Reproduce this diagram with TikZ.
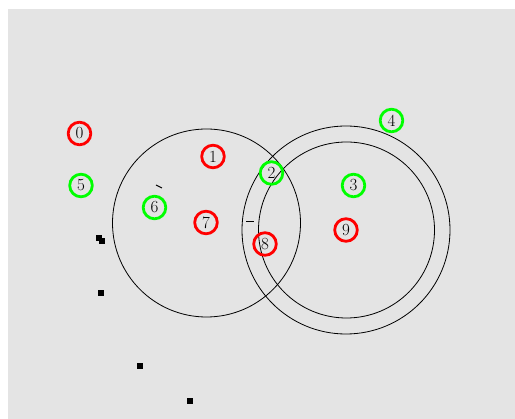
\documentclass[tikz,border=0pt]{standalone}
\usepackage{fontspec}
\definecolor{bggray}{RGB}{228,228,228}
\definecolor{nodered}{RGB}{255,0,0}
\definecolor{nodegreen}{RGB}{0,255,0}
\begin{document}
\begin{tikzpicture}[x=1pt,y=-1pt,
  bigring/.style={draw=black,line width=0.8pt,circle,inner sep=0pt},
  numnode/.style={line width=2.8pt,circle,inner sep=0pt,minimum size=22.6pt,font=\fontsize{17}{19}\selectfont},
  rednode/.style={numnode,draw=nodered},
  greennode/.style={numnode,draw=nodegreen},
  sq/.style={fill=black,inner sep=0pt,minimum size=6pt},
  tick/.style={draw=black,line width=1pt}]
\useasboundingbox (0,0) rectangle (515,419);
\fill[white] (0,0) rectangle (515,419);
\fill[bggray] (8,9) rectangle (515,419);
% big circles
\node[bigring,minimum size=188pt] (L) at (206.5,223) {};
\node[bigring,minimum size=208pt] (RO) at (346,230) {};
\node[bigring,minimum size=176pt] (RI) at (346.5,230) {};
% small marks
\coordinate (ta) at (156,185);
\coordinate (tb) at (162,188);
\draw[tick] (ta) -- (tb);
\coordinate (tc) at (246,222);
\coordinate (td) at (254,222);
\draw[tick] (tc) -- (td);
% squares
\node[sq] (s1) at (98.5,238.5) {};
\node[sq] (s2) at (102,241.5) {};
\node[sq] (s3) at (101,293.5) {};
\node[sq] (s4) at (140,366.5) {};
\node[sq] (s5) at (190,401.5) {};
% numbered nodes
\node[rednode] (n0) at (79.5,133.5) {0};
\node[rednode] (n1) at (213,156.5) {1};
\node[greennode] (n2) at (271.5,173) {2};
\node[greennode] (n3) at (353.5,185.5) {3};
\node[greennode] (n4) at (391.5,120.5) {4};
\node[greennode] (n5) at (81,185.5) {5};
\node[greennode] (n6) at (154.5,207.5) {6};
\node[rednode] (n7) at (206,222.5) {7};
\node[rednode] (n8) at (265,244) {8};
\node[rednode] (n9) at (346,230) {9};
\end{tikzpicture}
\end{document}
